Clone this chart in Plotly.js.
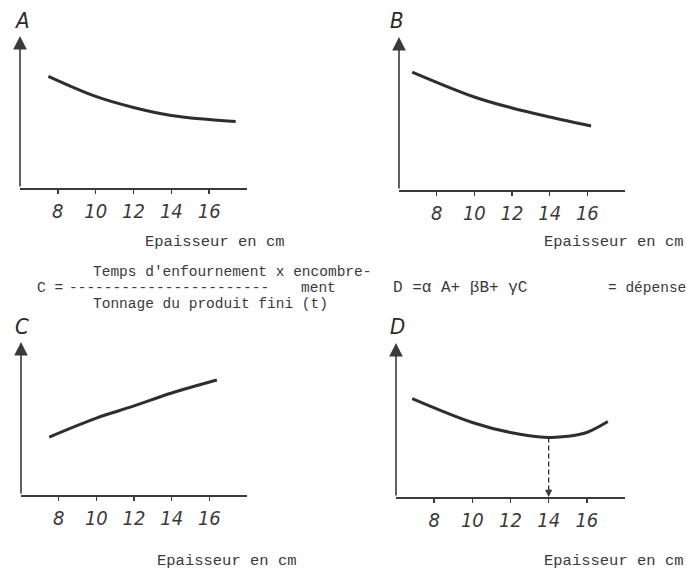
<!DOCTYPE html>
<html>
<head>
<meta charset="utf-8">
<script src="https://cdn.plot.ly/plotly-3.0.1.min.js"></script>
<style>html,body{margin:0;padding:0;background:#fff;} #chart{width:687px;height:572px;}</style>
</head>
<body>
<div id="chart"></div>
<script>
// Data (arbitrary vertical units 0..10, x = thickness in cm)
const xA = [7.5, 10, 12, 14, 16, 17.4];
const yA = [7.35, 6.03, 5.30, 4.77, 4.50, 4.37];
const xB = [6.7, 10, 12, 14, 16.2];
const yB = [7.71, 6.08, 5.36, 4.77, 4.18];
const xC = [7.5, 10, 12, 14, 16.4];
const yC = [3.79, 5.03, 5.82, 6.67, 7.52];
const xD = [6.85, 10, 12, 14, 15, 16, 17.1];
const yD = [6.39, 4.84, 4.19, 3.87, 3.94, 4.19, 4.90];
const optimumX = 14;
const optimumY = 3.87;
const tickVals = [8, 10, 12, 14, 16];
const tickText = ['8', '10', '12', '14', '16'];
const panelLetters = ['A', 'B', 'C', 'D'];
const xLabel = 'Epaisseur en cm';

const ink = '#2e2e2e';
const curve = {color: ink, width: 3, shape: 'spline', smoothing: 1};
const traces = [
  {x: xA, y: yA, xaxis: 'x', yaxis: 'y', mode: 'lines', line: curve, hoverinfo: 'skip'},
  {x: xB, y: yB, xaxis: 'x2', yaxis: 'y2', mode: 'lines', line: curve, hoverinfo: 'skip'},
  {x: xC, y: yC, xaxis: 'x3', yaxis: 'y3', mode: 'lines', line: curve, hoverinfo: 'skip'},
  {x: xD, y: yD, xaxis: 'x4', yaxis: 'y4', mode: 'lines', line: curve, hoverinfo: 'skip'},
  {x: [optimumX, optimumX], y: [optimumY, 0.3], xaxis: 'x4', yaxis: 'y4', mode: 'lines',
   line: {color: ink, width: 1.3, dash: '5px,3px'}, hoverinfo: 'skip'}
];

const W = 687, H = 572;
function px(a, b) { return [a / W, b / W]; }
function py(bottom, top) { return [1 - bottom / H, 1 - top / H]; }

const tickFont = {family: '"Liberation Sans Narrow", "DejaVu Sans Condensed", sans-serif', size: 20, color: '#3a3a3a', style: 'italic'};
function xax(domain, anchor) {
  return {domain: domain, anchor: anchor, range: [6, 18], showline: true, linecolor: '#3a3a3a', linewidth: 1.6,
    showgrid: false, zeroline: false, ticks: 'outside', ticklen: 4, tickwidth: 1.4, tickcolor: '#3a3a3a',
    tickvals: tickVals, ticktext: tickText, tickfont: tickFont, fixedrange: true};
}
function yax(domain, anchor) {
  return {domain: domain, anchor: anchor, range: [0, 10], showline: false, showgrid: false, zeroline: false,
    showticklabels: false, ticks: '', fixedrange: true};
}

const layout = {
  width: W, height: H, margin: {l: 0, r: 0, t: 0, b: 0},
  paper_bgcolor: '#ffffff', plot_bgcolor: 'rgba(0,0,0,0)', showlegend: false,
  xaxis: xax(px(20, 247), 'y'),   yaxis: yax(py(188, 36), 'x'),
  xaxis2: xax(px(399, 625), 'y2'), yaxis2: yax(py(190, 37), 'x2'),
  xaxis3: xax(px(21, 247), 'y3'),  yaxis3: yax(py(495, 342), 'x3'),
  xaxis4: xax(px(396, 625), 'y4'), yaxis4: yax(py(497, 343), 'x4'),
  annotations: []
};

// y axis arrows
['', '2', '3', '4'].forEach(function (s) {
  layout.annotations.push({xref: 'x' + s, yref: 'y' + s, axref: 'x' + s, ayref: 'y' + s,
    x: 6, y: 10, ax: 6, ay: 0, text: '', showarrow: true, arrowhead: 2, arrowsize: 1.7,
    arrowwidth: 1.6, arrowcolor: '#3a3a3a', standoff: 0, startstandoff: 0});
});
// arrowhead on optimum line
layout.annotations.push({xref: 'x4', yref: 'y4', x: optimumX, y: 0, ax: 0, ay: -10, text: '',
  showarrow: true, arrowhead: 2, arrowsize: 1.2, arrowwidth: 1.2, arrowcolor: '#3a3a3a'});

// panel letters
const letterFont = {family: '"Liberation Sans Narrow", "DejaVu Sans Condensed", sans-serif', size: 22, color: '#2a2a2a', style: 'italic'};
[[22, 20], [397, 20], [22, 326], [397, 326]].forEach(function (p, i) {
  layout.annotations.push({xref: 'paper', yref: 'paper', x: p[0] / W, y: 1 - p[1] / H,
    text: panelLetters[i], showarrow: false, font: letterFont, xanchor: 'center', yanchor: 'middle'});
});

// x-axis labels
const typeFont = {family: '"Liberation Mono", "DejaVu Sans Mono", monospace', size: 15.5, color: '#3a3a3a'};
[[215, 242], [614, 242], [227, 561], [614, 561]].forEach(function (p) {
  layout.annotations.push({xref: 'paper', yref: 'paper', x: p[0] / W, y: 1 - p[1] / H,
    text: xLabel, showarrow: false, font: typeFont, xanchor: 'center', yanchor: 'middle'});
});

// formula texts
const formulaFont = {family: '"Liberation Mono", "DejaVu Sans Mono", monospace', size: 14.5, color: '#3a3a3a'};
function txt(t, x, y, anchor, size) {
  const f = Object.assign({}, formulaFont);
  if (size) f.size = size;
  layout.annotations.push({xref: 'paper', yref: 'paper', x: x / W, y: 1 - y / H, text: t,
    showarrow: false, font: f, xanchor: anchor || 'left', yanchor: 'middle',
    height: 14, borderpad: 0});
}
txt("Temps d'enfournement x encombre-", 92, 272);
txt('C =', 36, 288);
txt('-----------------------', 68, 288);
txt('ment', 300, 288);
txt('Tonnage du produit fini (t)', 92, 304);
txt('D =α A+ βB+ γC', 392, 288, 'left', 16);
txt('= dépense', 687, 288, 'right');

Plotly.newPlot('chart', traces, layout, {staticPlot: true, displayModeBar: false});
</script>
</body>
</html>
